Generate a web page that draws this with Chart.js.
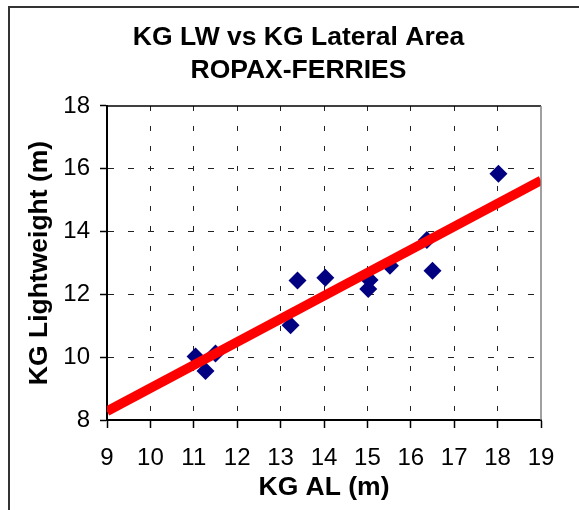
<!DOCTYPE html>
<html>
<head>
<meta charset="utf-8">
<script src="https://cdn.jsdelivr.net/npm/chart.js@4.4.1/dist/chart.umd.min.js"></script>
<style>
  body { margin: 0; background: #fff; }
  #wrap { width: 579px; height: 510px; }
</style>
</head>
<body>
<div id="wrap"><canvas id="chart"></canvas></div>
<script>
// KG of lateral area (x) vs KG lightweight (y), ropax ferries
const kgAL = [11.04, 11.27, 11.50, 13.23, 13.39, 14.03, 15.02, 15.05, 15.52, 16.37, 16.50, 18.02];
const kgLW = [10.02, 9.56, 10.12, 11.02, 12.44, 12.53, 12.17, 12.46, 12.91, 13.73, 12.75, 15.84];
// linear trend line end points
const trendX = [9, 19];
const trendY = [8.28, 15.63];
const titleLines = ['KG LW vs KG Lateral Area', 'ROPAX-FERRIES'];
const xRange = [9, 19];
const yRange = [8, 18];

const FONT = '"Liberation Sans", Arial, sans-serif';

// outer frame + plot frame lines
const frames = {
  id: 'frames',
  beforeDraw(chart) {
    const ctx = chart.ctx;
    ctx.save();
    ctx.strokeStyle = '#333';
    ctx.lineWidth = 2;
    ctx.beginPath();
    ctx.moveTo(9, 510);
    ctx.lineTo(9, 7);
    ctx.lineTo(579, 7);
    ctx.stroke();
    ctx.restore();
  },
  afterDraw(chart) {
    const { left, right, top, bottom } = chart.chartArea;
    const ctx = chart.ctx;
    ctx.save();
    ctx.lineWidth = 1.5;
    ctx.strokeStyle = '#000';
    ctx.beginPath();
    ctx.moveTo(left, top);
    ctx.lineTo(right, top);
    ctx.stroke();
    ctx.strokeStyle = '#808080';
    ctx.beginPath();
    ctx.moveTo(right, top);
    ctx.lineTo(right, bottom);
    ctx.stroke();
    ctx.restore();
  }
};

const edge = (v, r) => v === r[0] || v === r[1];

new Chart(document.getElementById('chart'), {
  type: 'scatter',
  data: {
    datasets: [
      {
        type: 'line',
        data: trendX.map((x, i) => ({ x, y: trendY[i] })),
        borderColor: '#ff0000',
        borderWidth: 9.5,
        pointRadius: 0,
        clip: 0
      },
      {
        data: kgAL.map((x, i) => ({ x, y: kgLW[i] })),
        pointStyle: 'rectRot',
        pointRadius: 9,
        pointHoverRadius: 9,
        backgroundColor: '#000080',
        borderColor: '#000080',
        borderWidth: 0
      }
    ]
  },
  options: {
    responsive: true,
    maintainAspectRatio: false,
    animation: false,
    layout: { padding: { left: 18, right: 0, top: 0, bottom: 0 } },
    plugins: {
      legend: { display: false },
      tooltip: { enabled: false },
      title: {
        display: true,
        text: titleLines,
        color: '#000',
        font: { family: FONT, size: 26.5, weight: 'bold', lineHeight: 1.245 },
        padding: { top: 21, bottom: 19 }
      }
    },
    scales: {
      x: {
        type: 'linear',
        min: xRange[0],
        max: xRange[1],
        afterFit: s => { s.height = 90; s.paddingRight = 38; },
        ticks: {
          stepSize: 1,
          color: '#000',
          padding: 16,
          font: { family: FONT, size: 24 }
        },
        grid: {
          color: c => edge(c.tick.value, xRange) ? 'rgba(0,0,0,0)' : '#222',
          lineWidth: 1,
          tickLength: 8,
          tickColor: '#000',
          tickWidth: 1.5
        },
        border: { display: true, color: '#000', width: 2, dash: [5, 15] },
        title: {
          display: true,
          text: 'KG AL (m)',
          color: '#000',
          font: { family: FONT, size: 26.5, weight: 'bold', lineHeight: 1.2 },
          padding: { top: 0, bottom: 6 }
        }
      },
      y: {
        type: 'linear',
        min: yRange[0],
        max: yRange[1],
        afterFit: s => { s.width = 89; },
        ticks: {
          stepSize: 1,
          color: '#000',
          padding: 10,
          font: { family: FONT, size: 24 },
          callback: v => (v % 2 === 0 ? v : '')
        },
        grid: {
          color: c => (edge(c.tick.value, yRange) || c.tick.value % 2 !== 0) ? 'rgba(0,0,0,0)' : '#222',
          lineWidth: 1,
          tickLength: 7,
          tickColor: c => c.tick.value % 2 === 0 ? '#000' : '#777',
          tickWidth: 1.5
        },
        border: { display: true, color: '#000', width: 2, dash: [6, 14] },
        title: {
          display: true,
          text: 'KG Lightweight (m)',
          color: '#000',
          font: { family: FONT, size: 26.5, weight: 'bold', lineHeight: 1.2 },
          padding: { top: 6, bottom: 0 }
        }
      }
    }
  },
  plugins: [frames]
});
</script>
</body>
</html>
